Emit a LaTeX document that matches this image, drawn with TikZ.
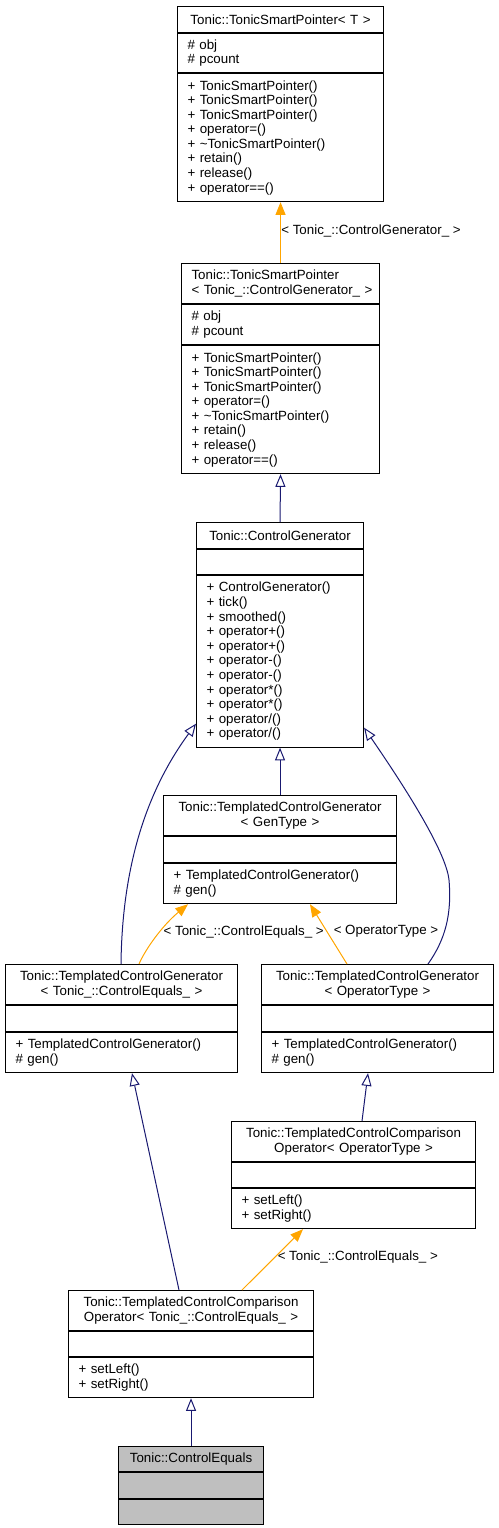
\documentclass[tikz,border=0pt]{standalone}
\usepackage{fontspec}
\setmainfont{Liberation Sans}
\usetikzlibrary{arrows.meta,calc}
\definecolor{navy}{HTML}{191970}
\definecolor{dorange}{HTML}{FFA500}
\definecolor{selgray}{HTML}{BFBFBF}
\begin{document}
\begin{tikzpicture}[x=0.75pt,y=-0.75pt,
  cell/.style={draw=black, line width=0.8pt, inner xsep=7.5pt, inner ysep=0pt,
    anchor=north west, font=\fontsize{10pt}{10.93pt}\selectfont, align=left},
  ttl/.style={cell, align=center},
  lbl/.style={font=\fontsize{10pt}{10.93pt}\selectfont, inner sep=0pt},
  inh/.style={draw=navy, line width=0.75pt, -{Triangle[length=9.5pt, width=7.5pt, fill=white]}},
  tmpl/.style={draw=dorange, line width=0.75pt, -{Triangle[length=9.5pt, width=7.5pt]}}
]
\useasboundingbox (0,0) rectangle (499,1528);

% Box 1
\node[ttl, minimum width=154.5pt, minimum height=19.5pt, text width=139.5pt] (t1) at (177,6) {Tonic::TonicSmartPointer< T >};
\node[cell, minimum width=154.5pt, minimum height=29.25pt, text width=139.5pt] (a1) at (t1.south west) {\# obj\\\# pcount};
\node[cell, minimum width=154.5pt, minimum height=96pt, text width=139.5pt] (m1) at (a1.south west) {+ TonicSmartPointer()\\+ TonicSmartPointer()\\+ TonicSmartPointer()\\+ operator=()\\+ \textasciitilde TonicSmartPointer()\\+ retain()\\+ release()\\+ operator==()};

% Box 2
\node[cell, minimum width=148.5pt, minimum height=30pt, text width=144.5pt, inner xsep=2pt] (t2) at (181,263) {\hspace*{5.5pt}\mbox{Tonic::TonicSmartPointer}\\\hspace*{5.5pt}\mbox{< Tonic\_::ControlGenerator\_ >}};
\node[cell, minimum width=148.5pt, minimum height=30pt, text width=133.5pt] (a2) at (t2.south west) {\# obj\\\# pcount};
\node[cell, minimum width=148.5pt, minimum height=96pt, text width=133.5pt] (m2) at (a2.south west) {+ TonicSmartPointer()\\+ TonicSmartPointer()\\+ TonicSmartPointer()\\+ operator=()\\+ \textasciitilde TonicSmartPointer()\\+ retain()\\+ release()\\+ operator==()};

% Box 3
\node[ttl, minimum width=125.25pt, minimum height=19.5pt, text width=110.25pt] (t3) at (196,522) {Tonic::ControlGenerator};
\node[cell, minimum width=125.25pt, minimum height=18.75pt, text width=110.25pt] (a3) at (t3.south west) {};
\node[cell, minimum width=125.25pt, minimum height=128.6pt, text width=110.25pt] (m3) at (a3.south west) {+ ControlGenerator()\\+ tick()\\+ smoothed()\\+ operator+()\\+ operator+()\\+ operator-()\\+ operator-()\\+ operator*()\\+ operator*()\\+ operator/()\\+ operator/()};

% Box 4
\node[ttl, minimum width=174.75pt, minimum height=30pt, text width=159.75pt] (t4) at (163,795) {Tonic::TemplatedControlGenerator\\< GenType >};
\node[cell, minimum width=174.75pt, minimum height=19.5pt, text width=159.75pt] (a4) at (t4.south west) {};
\node[cell, minimum width=174.75pt, minimum height=30pt, text width=159.75pt] (m4) at (a4.south west) {+ TemplatedControlGenerator()\\\# gen()};

% Box 5
\node[ttl, minimum width=174pt, minimum height=30pt, text width=159pt] (t5) at (5,964) {Tonic::TemplatedControlGenerator\\< Tonic\_::ControlEquals\_ >};
\node[cell, minimum width=174pt, minimum height=19.5pt, text width=159pt] (a5) at (t5.south west) {};
\node[cell, minimum width=174pt, minimum height=30pt, text width=159pt] (m5) at (a5.south west) {+ TemplatedControlGenerator()\\\# gen()};

% Box 6
\node[ttl, minimum width=174pt, minimum height=30pt, text width=159pt] (t6) at (261,964) {Tonic::TemplatedControlGenerator\\< OperatorType >};
\node[cell, minimum width=174pt, minimum height=19.5pt, text width=159pt] (a6) at (t6.south west) {};
\node[cell, minimum width=174pt, minimum height=30pt, text width=159pt] (m6) at (a6.south west) {+ TemplatedControlGenerator()\\\# gen()};

% Box 7
\node[ttl, minimum width=183pt, minimum height=30pt, text width=168pt] (t7) at (231,1121) {Tonic::TemplatedControlComparison\\Operator< OperatorType >};
\node[cell, minimum width=183pt, minimum height=18.75pt, text width=168pt] (a7) at (t7.south west) {};
\node[cell, minimum width=183pt, minimum height=30pt, text width=168pt] (m7) at (a7.south west) {+ setLeft()\\+ setRight()};

% Box 8
\node[ttl, minimum width=183.75pt, minimum height=30pt, text width=168.75pt] (t8) at (68,1290) {Tonic::TemplatedControlComparison\\Operator< Tonic\_::ControlEquals\_ >};
\node[cell, minimum width=183.75pt, minimum height=18.75pt, text width=168.75pt] (a8) at (t8.south west) {};
\node[cell, minimum width=183.75pt, minimum height=30pt, text width=168.75pt] (m8) at (a8.south west) {+ setLeft()\\+ setRight()};

% Box 9
\node[ttl, fill=selgray, minimum width=108.75pt, minimum height=18.75pt, text width=93.75pt] (t9) at (118,1446) {Tonic::ControlEquals};
\node[cell, fill=selgray, minimum width=108.75pt, minimum height=19.5pt, text width=93.75pt] (a9) at (t9.south west) {};
\node[cell, fill=selgray, minimum width=108.75pt, minimum height=18.75pt, text width=93.75pt] (m9) at (a9.south west) {};

% Edges
\draw[tmpl] (t2.north) -- (m1.south);
\node[lbl] (l1) at (371,230.7) {< Tonic\_::ControlGenerator\_ >};

\draw[inh] (t3.north) -- (m2.south);
\draw[inh] (t4.north) -- (m3.south);

\draw[inh] ($(t5.north west)+(116,0)$) .. controls (122,880) and (140,800) .. ($(m3.south west)+(0,-24)$);
\draw[inh] ($(t6.north west)+(167,0)$) .. controls (445,940) and (452,915) .. (449,880)
  .. controls (446,850) and (400,780) .. ($(m3.south east)+(0,-20)$);

\draw[tmpl] ($(t5.north west)+(134,0)$) .. controls (146,948) and (163,925) .. ($(m4.south west)+(25,0)$);
\node[lbl] (l2) at (243.7,931.7) {< Tonic\_::ControlEquals\_ >};
\draw[tmpl] ($(t6.north west)+(86,0)$) -- ($(m4.south west)+(147,0)$);
\node[lbl] (l3) at (386,931.7) {< OperatorType >};

\draw[inh] ($(t7.north west)+(131,0)$) -- ($(m6.south west)+(107,0)$);
\draw[inh] ($(t8.north west)+(111,0)$) -- ($(m5.south west)+(127,0)$);
\draw[tmpl] ($(t8.north west)+(174,0)$) -- ($(m7.south west)+(72,0)$);
\node[lbl] (l4) at (357.8,1256.7) {< Tonic\_::ControlEquals\_ >};

\draw[inh] (t9.north) -- (m8.south);
\end{tikzpicture}
\end{document}
